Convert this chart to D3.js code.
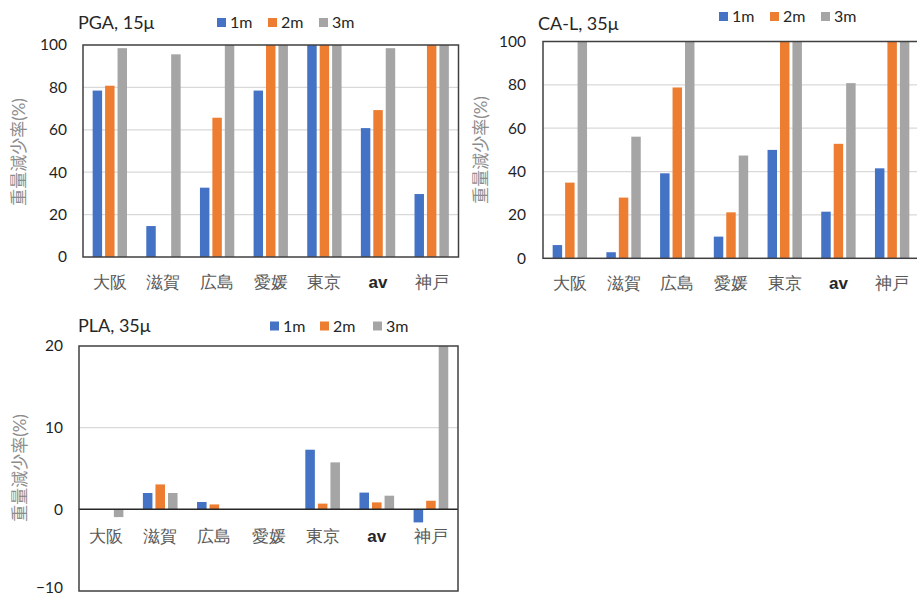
<!DOCTYPE html>
<html>
<head>
<meta charset="utf-8">
<script src="https://cdn.jsdelivr.net/npm/d3@7/dist/d3.min.js"></script>
<style>
  html, body { margin: 0; padding: 0; background: #fff; }
  svg { display: block; font-family: Lato, "Noto Sans CJK JP", sans-serif; }
</style>
</head>
<body>
<svg id="chart" width="917" height="595"></svg>
<script>
// Sampling sites and exposure lengths
const categories = ["大阪", "滋賀", "広島", "愛媛", "東京", "av", "神戸"];
const seriesNames = ["1m", "2m", "3m"];
const seriesColors = ["#4472C4", "#ED7D31", "#A5A5A5"];

// Weight loss (%) — PGA film, 15μ
const pga1m = [78.5, 14.6, 32.7, 78.5, 100, 60.8, 29.7];
const pga2m = [80.8, 0, 65.7, 100, 100, 69.3, 100];
const pga3m = [98.5, 95.6, 100, 100, 100, 98.5, 100];

// Weight loss (%) — CA-L film, 35μ
const cal1m = [6.1, 2.8, 39.2, 10.0, 50.0, 21.5, 41.5];
const cal2m = [34.9, 28.0, 78.8, 21.2, 100, 52.8, 100];
const cal3m = [100, 56.1, 100, 47.4, 100, 80.8, 100];

// Weight loss (%) — PLA film, 35μ
const pla1m = [0, 2.0, 0.9, 0, 7.3, 2.05, -1.6];
const pla2m = [0, 3.05, 0.6, 0, 0.7, 0.85, 1.05];
const pla3m = [-0.95, 2.0, 0, 0, 5.75, 1.67, 20];

const pctTicks = [0, 20, 40, 60, 80, 100];
const plaTicks = [-10, 0, 10, 20];

const yTitle = "重量減少率(%)";

const svg = d3.select("#chart");

function drawChart(o) {
  const g = svg.append("g");
  const y = d3.scaleLinear().domain(o.domain).range([o.bottom, o.top]).clamp(true);
  const x0 = d3.scaleBand().domain(categories).range([o.left, o.right])
    .paddingInner(0.36).paddingOuter(0.18);
  const x1 = d3.scaleBand().domain(seriesNames).range([0, x0.bandwidth()]).paddingInner(0.24);

  // horizontal gridlines
  g.append("g").selectAll("line")
    .data(o.ticks.filter(t => t !== o.domain[0] && t !== o.domain[1] && t !== 0))
    .join("line")
    .attr("x1", o.left).attr("x2", o.right)
    .attr("y1", d => y(d)).attr("y2", d => y(d))
    .attr("stroke", "#d9d9d9").attr("stroke-width", 1.3);

  // bars
  const groups = g.append("g").selectAll("g")
    .data(categories).join("g")
    .attr("transform", d => `translate(${x0(d)},0)`);
  groups.selectAll("rect")
    .data((c, ci) => seriesNames.map((s, si) => ({ s, si, v: o.series[si][ci] })))
    .join("rect")
    .attr("x", d => x1(d.s))
    .attr("width", x1.bandwidth())
    .attr("y", d => y(Math.max(0, d.v)))
    .attr("height", d => Math.abs(y(d.v) - y(0)))
    .attr("fill", d => seriesColors[d.si]);

  // zero line (when it sits inside the plot)
  if (o.domain[0] < 0) {
    g.append("line")
      .attr("x1", o.left).attr("x2", o.right)
      .attr("y1", y(0)).attr("y2", y(0))
      .attr("stroke", "#262626").attr("stroke-width", 1.5);
  }

  // plot frame
  g.append("rect")
    .attr("x", o.left).attr("y", o.top)
    .attr("width", o.right - o.left).attr("height", o.bottom - o.top)
    .attr("fill", "none").attr("stroke", "#404040").attr("stroke-width", 1.5);

  // y axis tick labels
  const yAxis = d3.axisLeft(y).tickValues(o.ticks).tickSize(0).tickPadding(o.tickGap);
  const ya = g.append("g").attr("transform", `translate(${o.left},0)`).call(yAxis);
  ya.select(".domain").remove();
  ya.selectAll("text").attr("font-size", 15.5).attr("fill", "#1f1f1f")
    .attr("font-family", "Lato, sans-serif");
  // keep the lowest label inside the canvas when the plot reaches the bottom edge
  ya.selectAll(".tick").filter(d => y(d) > 588).select("text").attr("dy", "0.1em");

  // category labels
  const xAxis = d3.axisBottom(x0).tickSize(0).tickPadding(0);
  const xa = g.append("g").attr("transform", `translate(0,${o.labelY})`).call(xAxis);
  xa.select(".domain").remove();
  xa.selectAll("text")
    .attr("font-size", 17)
    .attr("fill", d => d === "av" ? "#262626" : "#595959")
    .attr("font-weight", d => d === "av" ? 600 : 400)
    .attr("dy", "0.35em")
    .attr("y", 0);

  // y axis title
  g.append("text")
    .attr("transform", `translate(${o.yTitleX},${o.yTitleY}) rotate(-90)`)
    .attr("text-anchor", "middle").attr("dy", "0.35em")
    .attr("font-size", 17).attr("fill", "#8c8c8c")
    .text(yTitle);

  // chart title
  g.append("text")
    .attr("x", o.titleX).attr("y", o.titleY)
    .attr("font-size", 18).attr("fill", "#262626")
    .text(o.title);

  // legend
  const lg = g.append("g").selectAll("g").data(seriesNames).join("g")
    .attr("transform", (d, i) => `translate(${o.legendX[i]},${o.legendY})`);
  lg.append("rect").attr("x", 0).attr("y", -4.5).attr("width", 9).attr("height", 9)
    .attr("fill", (d, i) => seriesColors[i]);
  lg.append("text").attr("x", 13).attr("y", 0).attr("dy", "0.35em")
    .attr("font-size", 16).attr("fill", "#262626").text(d => d);
}

drawChart({
  title: "PGA, 15μ", titleX: 78, titleY: 29,
  legendX: [217, 268, 319], legendY: 22.5,
  left: 83, right: 458.5, top: 45, bottom: 257,
  domain: [0, 100], ticks: pctTicks, tickGap: 16,
  labelY: 282, yTitleX: 19, yTitleY: 152,
  series: [pga1m, pga2m, pga3m]
});

drawChart({
  title: "CA-L, 35μ", titleX: 538, titleY: 30,
  legendX: [719, 770, 821], legendY: 16.5,
  left: 543, right: 919, top: 41.5, bottom: 258.3,
  domain: [0, 100], ticks: pctTicks, tickGap: 17,
  labelY: 283, yTitleX: 481, yTitleY: 150,
  series: [cal1m, cal2m, cal3m]
});

drawChart({
  title: "PLA, 35μ", titleX: 78, titleY: 332,
  legendX: [270, 320, 373], legendY: 326,
  left: 79, right: 458, top: 346, bottom: 591,
  domain: [-10, 20], ticks: plaTicks, tickGap: 16,
  labelY: 536, yTitleX: 20, yTitleY: 468,
  series: [pla1m, pla2m, pla3m]
});
</script>
</body>
</html>
